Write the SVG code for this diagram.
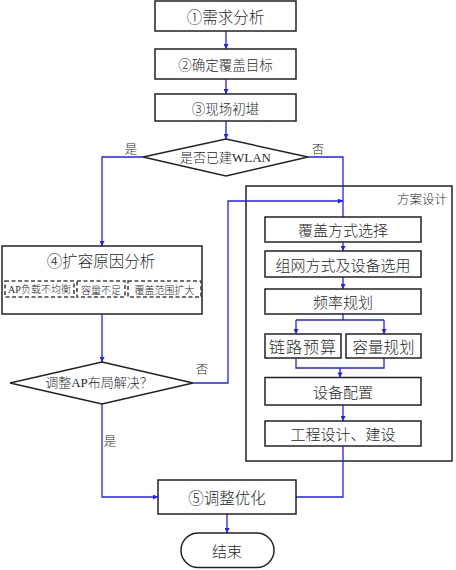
<svg xmlns="http://www.w3.org/2000/svg" width="456" height="570" viewBox="0 0 456 570">
<defs>
<marker id="ah" viewBox="0 0 8 8" refX="8" refY="4" markerWidth="6" markerHeight="5" orient="auto" markerUnits="userSpaceOnUse"><path d="M0,0 L8,4 L0,8 z" fill="#1f1fff"/></marker>
<style>
.box{fill:#fff;stroke:#222;stroke-width:1.5}
.frame{fill:none;stroke:#222;stroke-width:1.5}
.dash{fill:#fff;stroke:#444;stroke-width:1.6;stroke-dasharray:4 2.5}
.t{font-family:"Noto Sans CJK SC","Liberation Sans",sans-serif;font-weight:300;fill:#2a2a2a;text-anchor:middle;dominant-baseline:central}
.s{font-family:"Liberation Serif","Noto Sans CJK SC",serif;font-weight:300;fill:#2a2a2a;text-anchor:middle;dominant-baseline:central}
.c{fill:none;stroke:#1f1fff;stroke-width:1.3}
.a{marker-end:url(#ah)}
</style>
</defs>
<rect width="456" height="570" fill="#fff"/>
<g id="design-frame">
<rect class="frame" x="246" y="186" width="206" height="275"/>
<text class="t" x="447" y="198" font-size="12.5" style="text-anchor:end">方案设计</text>
</g>
<g id="connectors">
<path class="c a" d="M226,31 V49"/>
<path class="c a" d="M226,79 V94"/>
<path class="c a" d="M226,121 V139"/>
<path class="c a" d="M143,157 H102 V246"/>
<path class="c" d="M308,157 H343 V217"/>
<path class="c a" d="M343,242 V251"/>
<path class="c a" d="M343,277 V289"/>
<path class="c" d="M343,314 V320"/>
<path class="c a" d="M296,320 H384 M296,320 V334"/>
<path class="c a" d="M384,320 V334"/>
<path class="c" d="M296,358 V368 H384 V358"/>
<path class="c a" d="M340,368 V377.5"/>
<path class="c a" d="M343,405 V421"/>
<path class="c" d="M343,446 V497 H296"/>
<path class="c a" d="M102,314 V362"/>
<path class="c a" d="M193,383 H228 V201 H343"/>
<path class="c a" d="M102,404 V497 H158"/>
<path class="c a" d="M227,514 V533"/>
<text class="t" x="131" y="148" font-size="12.5">是</text>
<text class="t" x="318" y="148" font-size="12.5">否</text>
<text class="t" x="202" y="368" font-size="12.5">否</text>
<text class="t" x="110" y="440" font-size="12.5">是</text>
</g>
<g id="n1"><rect class="box" x="155" y="1" width="141" height="30"/><text class="t" x="225.5" y="16" font-size="15.5">①需求分析</text></g>
<g id="n2"><rect class="box" x="155" y="49" width="141" height="30"/><text class="t" x="225.5" y="64" font-size="13.5">②确定覆盖目标</text></g>
<g id="n3"><rect class="box" x="155" y="94" width="141" height="27"/><text class="t" x="225.5" y="107.5" font-size="13.5">③现场初堪</text></g>
<g id="d1"><polygon class="box" points="226,139 308,157 226,176 143,157"/><text class="s" x="225.5" y="157" font-size="13">是否已建WLAN</text></g>
<g id="n4">
<rect class="box" x="2" y="246" width="200" height="68"/>
<text class="t" x="101" y="260" font-size="15.5">④扩容原因分析</text>
<rect class="dash" x="5" y="281" width="69" height="16"/>
<text class="s" x="39.5" y="289" font-size="10">AP负载不均衡</text>
<rect class="dash" x="77" y="281" width="48" height="16"/>
<text class="t" x="101" y="289" font-size="10">容量不足</text>
<rect class="dash" x="128" y="281" width="73" height="16"/>
<text class="t" x="164.5" y="289" font-size="10">覆盖范围扩大</text>
</g>
<g id="d2"><polygon class="box" points="102,362 193,383 102,404 10,383"/><text class="s" x="99" y="382" font-size="13">调整AP布局解决？</text></g>
<g id="p1"><rect class="box" x="265" y="217" width="156" height="25"/><text class="t" x="343" y="229.5" font-size="15">覆盖方式选择</text></g>
<g id="p2"><rect class="box" x="265" y="251" width="156" height="26"/><text class="t" x="343" y="264" font-size="15">组网方式及设备选用</text></g>
<g id="p3"><rect class="box" x="265" y="289" width="156" height="25"/><text class="t" x="343" y="301.5" font-size="15">频率规划</text></g>
<g id="p4"><rect class="box" x="265" y="334" width="76" height="24"/><text class="t" x="303" y="346" font-size="16" letter-spacing="1">链路预算</text></g>
<g id="p5"><rect class="box" x="346" y="334" width="75" height="24"/><text class="t" x="383.5" y="346" font-size="15.5">容量规划</text></g>
<g id="p6"><rect class="box" x="265" y="377.5" width="156" height="27.5"/><text class="t" x="343" y="391" font-size="15">设备配置</text></g>
<g id="p7"><rect class="box" x="265" y="421" width="156" height="25"/><text class="t" x="343" y="433.5" font-size="15">工程设计、建设</text></g>
<g id="n5"><rect class="box" x="158" y="480" width="138" height="34"/><text class="t" x="227" y="497" font-size="15.5">⑤调整优化</text></g>
<g id="end"><rect class="box" x="181" y="533" width="93" height="34.5" rx="17.25"/><text class="t" x="227" y="550" font-size="15">结束</text></g>
</svg>
